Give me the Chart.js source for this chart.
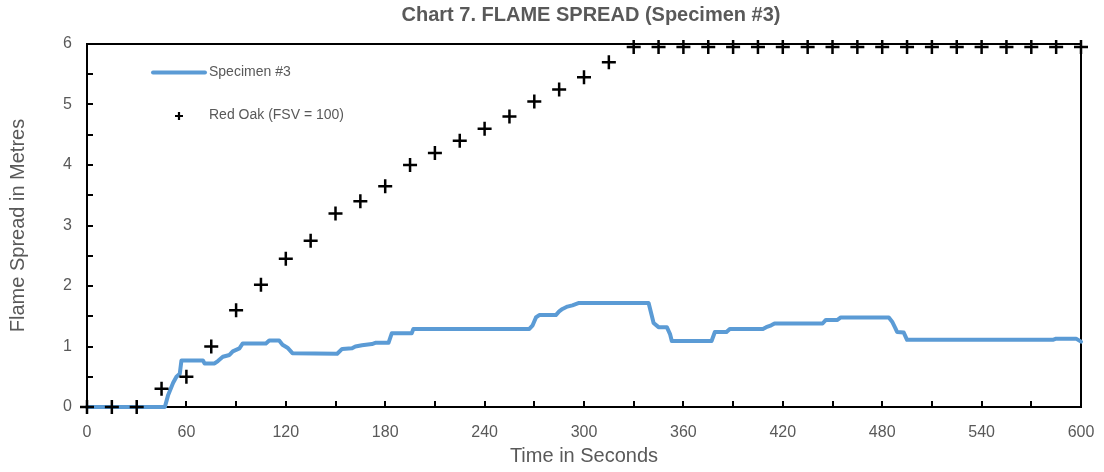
<!DOCTYPE html>
<html>
<head>
<meta charset="utf-8">
<script src="https://cdn.jsdelivr.net/npm/chart.js@4.4.1/dist/chart.umd.min.js"></script>
<style>
  html, body { margin: 0; padding: 0; background: #ffffff; }
  #wrap { width: 1104px; height: 472px; }
</style>
</head>
<body>
<div id="wrap"><canvas id="c" width="1104" height="472"></canvas></div>
<script>
// ---- Data ----
const chartTitle = "Chart 7. FLAME SPREAD (Specimen #3)";
const xAxisTitle = "Time in Seconds";
const yAxisTitle = "Flame Spread in Metres";
const seriesNames = ["Specimen #3", "Red Oak (FSV = 100)"];

const specimenTime = [0, 47, 49, 52, 54, 56, 57, 70, 71, 77, 79, 82, 86, 88, 92, 94, 108, 110, 116, 118, 121, 124,
  151, 154, 160, 162, 166, 172, 174, 182, 184, 196, 197, 267, 269, 271, 273, 283, 285, 287, 290, 293, 297,
  339, 341, 342, 345, 350, 352, 353, 377, 379, 386, 388, 408, 410, 413, 415, 444, 446, 453, 455,
  484, 486, 488, 489, 493, 495, 583, 585, 597, 600];
const specimenFlame = [0, 0, 0.2, 0.4, 0.5, 0.55, 0.77, 0.77, 0.72, 0.72, 0.76, 0.83, 0.86, 0.92, 0.97, 1.05, 1.05, 1.1, 1.1, 1.03, 0.98, 0.89,
  0.88, 0.96, 0.97, 1.0, 1.02, 1.04, 1.06, 1.06, 1.22, 1.22, 1.29, 1.29, 1.35, 1.48, 1.52, 1.52, 1.58, 1.62, 1.66, 1.68, 1.72,
  1.72, 1.5, 1.39, 1.32, 1.32, 1.2, 1.09, 1.09, 1.24, 1.24, 1.29, 1.29, 1.32, 1.35, 1.38, 1.38, 1.44, 1.44, 1.48,
  1.48, 1.41, 1.30, 1.24, 1.23, 1.11, 1.11, 1.13, 1.13, 1.08];

const redOakTime = [0, 15, 30, 45, 60, 75, 90, 105, 120, 135, 150, 165, 180, 195, 210, 225, 240, 255, 270, 285, 300, 315,
  330, 345, 360, 375, 390, 405, 420, 435, 450, 465, 480, 495, 510, 525, 540, 555, 570, 585, 600];
const redOakFlame = [0, 0, 0, 0.3, 0.5, 1.0, 1.6, 2.02, 2.45, 2.75, 3.2, 3.4, 3.65, 4.0, 4.2, 4.4, 4.6, 4.8, 5.05, 5.25, 5.45, 5.7,
  5.95, 5.95, 5.95, 5.95, 5.95, 5.95, 5.95, 5.95, 5.95, 5.95, 5.95, 5.95, 5.95, 5.95, 5.95, 5.95, 5.95, 5.95, 5.95];

const xMin = 0, xMax = 600, xMajorStep = 60, xMinorStep = 30;
const yMin = 0, yMax = 6, yMajorStep = 1, yMinorStep = 0.5;

// ---- Build ----
const specimenPoints = specimenTime.map((t, i) => ({ x: t, y: specimenFlame[i] }));
const redOakPoints = redOakTime.map((t, i) => ({ x: t, y: redOakFlame[i] }));

const FONT = "'Liberation Sans', Arial, Helvetica, sans-serif";
const GREY = '#595959';
const BLUE = '#5B9BD5';

const framePlugin = {
  id: 'frame',
  beforeDatasetsDraw(chart) {
    const { ctx, chartArea: a, scales: { x, y } } = chart;
    ctx.save();
    ctx.strokeStyle = '#000';
    ctx.lineWidth = 2;
    ctx.beginPath();
    for (let t = xMin; t <= xMax; t += xMinorStep) {
      const px = Math.round(x.getPixelForValue(t));
      ctx.moveTo(px, a.bottom);
      ctx.lineTo(px, a.bottom - 6);
    }
    for (let v = yMin; v <= yMax + 1e-9; v += yMinorStep) {
      const py = Math.round(y.getPixelForValue(v));
      ctx.moveTo(a.left, py);
      ctx.lineTo(a.left + 6, py);
    }
    ctx.stroke();
    ctx.strokeRect(a.left, a.top, a.right - a.left, a.bottom - a.top);
    ctx.restore();
  },
  afterDraw(chart) {
    const { ctx, chartArea: a } = chart;
    ctx.save();
    // title
    ctx.fillStyle = GREY;
    ctx.font = "bold 20px " + FONT;
    ctx.textAlign = 'center';
    ctx.textBaseline = 'middle';
    ctx.fillText(chartTitle, 591, 15);
    // legend
    ctx.strokeStyle = BLUE;
    ctx.lineWidth = 4;
    ctx.lineCap = 'round';
    ctx.beginPath();
    ctx.moveTo(a.left + 66, 72.5);
    ctx.lineTo(a.left + 118, 72.5);
    ctx.stroke();
    ctx.strokeStyle = '#000';
    ctx.lineWidth = 2.2;
    ctx.lineCap = 'butt';
    ctx.beginPath();
    ctx.moveTo(a.left + 88, 116); ctx.lineTo(a.left + 96, 116);
    ctx.moveTo(a.left + 92, 112); ctx.lineTo(a.left + 92, 120);
    ctx.stroke();
    ctx.fillStyle = GREY;
    ctx.font = "14px " + FONT;
    ctx.textAlign = 'left';
    ctx.textBaseline = 'middle';
    ctx.fillText(seriesNames[0], a.left + 122, 72.5);
    ctx.fillText(seriesNames[1], a.left + 122, 115);
    ctx.restore();
  }
};

new Chart(document.getElementById('c'), {
  type: 'scatter',
  data: {
    datasets: [
      {
        label: seriesNames[1],
        data: redOakPoints,
        showLine: false,
        pointStyle: 'cross',
        pointRadius: 7,
        pointBorderWidth: 2.5,
        borderColor: '#000',
        backgroundColor: '#000',
        clip: false
      },
      {
        label: seriesNames[0],
        data: specimenPoints,
        showLine: true,
        borderColor: BLUE,
        borderWidth: 4,
        pointRadius: 0,
        tension: 0,
        fill: false,
        borderCapStyle: 'round',
        borderJoinStyle: 'round',
        clip: false
      }
    ]
  },
  options: {
    responsive: false,
    animation: false,
    events: [],
    layout: { padding: { top: 44, right: 23, left: 0, bottom: 0 } },
    plugins: { legend: { display: false }, title: { display: false }, tooltip: { enabled: false } },
    scales: {
      x: {
        type: 'linear',
        min: xMin, max: xMax,
        afterFit(s) { s.height = 65; s.paddingLeft = 0; s.paddingRight = 0; },
        grid: { display: false, drawTicks: false },
        border: { display: false },
        ticks: { stepSize: xMajorStep, padding: 16, color: GREY, font: { family: FONT, size: 16 } },
        title: { display: true, text: xAxisTitle, color: GREY, padding: { top: 2 }, font: { family: FONT, size: 20 } }
      },
      y: {
        type: 'linear',
        min: yMin, max: yMax,
        afterFit(s) { s.width = 87; s.paddingTop = 0; s.paddingBottom = 0; },
        grid: { display: false, drawTicks: false },
        border: { display: false },
        ticks: { stepSize: yMajorStep, padding: 15, color: GREY, font: { family: FONT, size: 16 } },
        title: { display: true, text: yAxisTitle, color: GREY, padding: { top: 6 }, font: { family: FONT, size: 20 } }
      }
    }
  },
  plugins: [framePlugin]
});
</script>
</body>
</html>
